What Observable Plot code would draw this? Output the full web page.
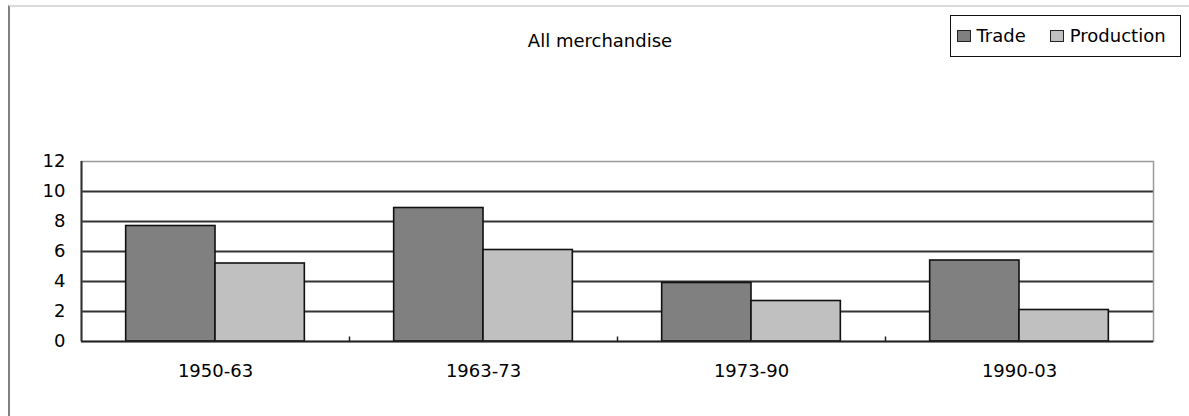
<!DOCTYPE html>
<html><head><meta charset="utf-8">
<script src="https://cdn.jsdelivr.net/npm/d3@7"></script>
<script src="https://cdn.jsdelivr.net/npm/@observablehq/plot@0.6"></script>
<style>
body{margin:0;background:#fff;font-family:"DejaVu Sans",sans-serif;}
#wrap{position:relative;width:1189px;height:416px;overflow:hidden;}
#border{position:absolute;left:8px;top:5px;right:-4px;bottom:-4px;border-left:2px solid #808080;border-top:2px solid #dcdcdc;}
#title{position:absolute;left:0;width:1200px;text-align:center;top:32px;font-size:18px;line-height:18px;color:#000;}
#legend{position:absolute;left:950px;top:15px;width:231px;height:42px;box-sizing:border-box;border:1.5px solid #111;display:flex;align-items:center;padding-left:5.5px;font-size:18px;line-height:18px;color:#000;}
.sw{display:inline-block;width:14px;height:12px;box-sizing:border-box;border:1.5px solid #222;margin-right:6px;}
.item{display:flex;align-items:center;margin-right:24px;}
#chart{position:absolute;left:0;top:0;}
</style></head>
<body>
<div id="wrap">
  <div id="border"></div>
  <div id="chart"></div>
  <div id="title"></div>
  <div id="legend"></div>
</div>
<script>
const periods = ["1950-63", "1963-73", "1973-90", "1990-03"];
const series = ["Trade", "Production"];
const trade = [7.7, 8.9, 3.9, 5.4];
const production = [5.2, 6.1, 2.7, 2.1];
const colors = ["#808080", "#c0c0c0"];
const yTicks = [0, 2, 4, 6, 8, 10, 12];
const titleText = "All merchandise";

const data = periods.flatMap((p, i) => [
  {period: p, series: series[0], value: trade[i]},
  {period: p, series: series[1], value: production[i]}
]);

const W = 1189, H = 416, mL = 81, mR = 36, mT = 161, mB = 75;
const band = (W - mL - mR) / periods.length;

const chart = Plot.plot({
  width: W, height: H,
  marginLeft: mL, marginRight: mR, marginTop: mT, marginBottom: mB,
  style: {fontFamily: "DejaVu Sans", fontSize: "18px", color: "#000", background: "transparent"},
  x: {domain: periods, padding: 0, label: null, tickSize: 0, tickPadding: 23},
  y: {domain: [0, 12], ticks: yTicks, label: null, tickSize: 0, tickPadding: 16},
  marks: [
    Plot.ruleY(yTicks.filter(v => v > 0 && v < 12), {stroke: "#333", strokeWidth: 1.8}),
    Plot.frame({stroke: "#9a9a9a", strokeWidth: 1.5}),
    Plot.barY(data.filter(d => d.series === series[0]), {x: "period", y: "value", fill: colors[0], stroke: "#111", strokeWidth: 1.6, insetLeft: band / 6, insetRight: band / 2}),
    Plot.barY(data.filter(d => d.series === series[1]), {x: "period", y: "value", fill: colors[1], stroke: "#111", strokeWidth: 1.6, insetLeft: band / 2, insetRight: band / 6}),
    Plot.ruleY([0], {stroke: "#222", strokeWidth: 2}),
    Plot.ruleX(periods.slice(1), {x: d => d, y1: 0, y2: 0.3, dx: -band / 2, stroke: "#222", strokeWidth: 1.5}),
    Plot.ruleX([periods[0]], {x: d => d, y1: 0, y2: 12, dx: -band / 2, stroke: "#333", strokeWidth: 2})
  ]
});
document.getElementById("chart").appendChild(chart);
document.getElementById("title").textContent = titleText;

const legend = document.getElementById("legend");
series.forEach((s, i) => {
  const item = document.createElement("span");
  item.className = "item";
  const sw = document.createElement("span");
  sw.className = "sw";
  sw.style.background = colors[i];
  const t = document.createElement("span");
  t.textContent = s;
  item.appendChild(sw);
  item.appendChild(t);
  legend.appendChild(item);
});
</script>
</body></html>
